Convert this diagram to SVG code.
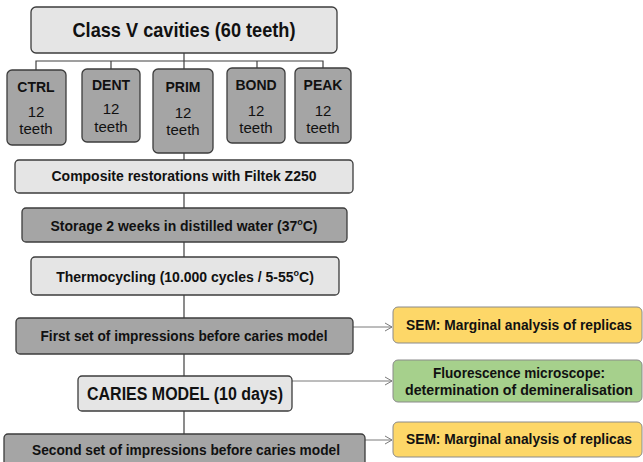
<svg xmlns="http://www.w3.org/2000/svg" width="643" height="462" viewBox="0 0 643 462">
<defs>
<style>
.lt{fill:#e5e5e5;stroke:#3c3c3c;stroke-width:1.3}
.dk{fill:#a5a5a5;stroke:#3c3c3c;stroke-width:1.3}
.ye{fill:#fdd768;stroke:#8a8a8a;stroke-width:1}
.gr{fill:#a6d08c;stroke:#8a8a8a;stroke-width:1}
text{font-family:"Liberation Sans",Arial,sans-serif;fill:#111;text-anchor:middle;dominant-baseline:central}
.b{font-weight:bold}
.sup{font-size:9px;baseline-shift:4px}
.line{stroke:#404040;stroke-width:1.2;fill:none}
.arr{stroke:#7a7a7a;stroke-width:1;fill:none}
</style>
<marker id="ah" markerWidth="10" markerHeight="10" refX="8" refY="5" orient="auto" markerUnits="userSpaceOnUse">
<path d="M1,1 L8,5 L1,9" fill="none" stroke="#7a7a7a" stroke-width="1"/>
</marker>
</defs>
<g id="connectors">
<path class="line" d="M184,53 V61 M36,70 V61 H323 V68 M111,61 V69 M184,61 V69 M257,61 V68"/>
<path class="line" d="M184,153 V160 M184,193 V208 M184,242 V257 M184,295 V318 M184,354 V376 M184,411 V434"/>
<line class="arr" x1="353" y1="327" x2="392" y2="327" marker-end="url(#ah)"/>
<line class="arr" x1="292" y1="381" x2="392" y2="381" marker-end="url(#ah)"/>
<line class="arr" x1="365" y1="440" x2="392" y2="440" marker-end="url(#ah)"/>
</g>
<g id="n-title"><rect class="lt" x="31" y="7" width="306" height="46" rx="5"/><text class="b" x="184" y="29" font-size="21" textLength="223" lengthAdjust="spacingAndGlyphs">Class V cavities (60 teeth)</text></g>
<g id="n-ctrl"><rect class="dk" x="7" y="70" width="59" height="75" rx="5"/><text class="b" x="36" y="87" font-size="14">CTRL</text><text x="36" y="111" font-size="15">12</text><text x="36" y="128" font-size="15">teeth</text></g>
<g id="n-dent"><rect class="dk" x="82" y="69" width="58" height="73" rx="5"/><text class="b" x="111" y="85" font-size="14">DENT</text><text x="111" y="108" font-size="15">12</text><text x="111" y="126" font-size="15">teeth</text></g>
<g id="n-prim"><rect class="dk" x="153" y="69" width="60" height="84" rx="5"/><text class="b" x="183" y="87" font-size="14">PRIM</text><text x="183" y="112" font-size="15">12</text><text x="183" y="129" font-size="15">teeth</text></g>
<g id="n-bond"><rect class="dk" x="227" y="68" width="58" height="75" rx="5"/><text class="b" x="256" y="85" font-size="14">BOND</text><text x="256" y="110" font-size="15">12</text><text x="256" y="127" font-size="15">teeth</text></g>
<g id="n-peak"><rect class="dk" x="295" y="68" width="56" height="75" rx="5"/><text class="b" x="323" y="85" font-size="14">PEAK</text><text x="323" y="110" font-size="15">12</text><text x="323" y="127" font-size="15">teeth</text></g>
<g id="n-composite"><rect class="lt" x="15" y="160" width="338" height="33" rx="4"/><text class="b" x="184" y="176" font-size="14" textLength="265" lengthAdjust="spacingAndGlyphs">Composite restorations with Filtek Z250</text></g>
<g id="n-storage"><rect class="dk" x="22" y="208" width="325" height="34" rx="4"/><text class="b" x="184" y="226" font-size="14" textLength="267" lengthAdjust="spacingAndGlyphs">Storage 2 weeks in distilled water (37<tspan class="sup">o</tspan>C)</text></g>
<g id="n-thermo"><rect class="lt" x="31" y="257" width="308" height="38" rx="4"/><text class="b" x="185" y="277" font-size="14">Thermocycling (10.000 cycles / 5-55<tspan class="sup">o</tspan>C)</text></g>
<g id="n-first"><rect class="dk" x="16" y="318" width="337" height="36" rx="4"/><text class="b" x="184" y="336" font-size="14" textLength="287" lengthAdjust="spacingAndGlyphs">First set of impressions before caries model</text></g>
<g id="n-caries"><rect class="lt" x="78" y="376" width="214" height="35" rx="4"/><text class="b" x="185" y="394" font-size="18" textLength="196" lengthAdjust="spacingAndGlyphs">CARIES MODEL (10 days)</text></g>
<g id="n-second"><rect class="dk" x="4" y="434" width="361" height="40" rx="4"/><text class="b" x="186" y="450" font-size="14" textLength="308" lengthAdjust="spacingAndGlyphs">Second set of impressions before caries model</text></g>
<g id="n-sem1"><rect class="ye" x="393" y="307" width="249" height="36" rx="5"/><text class="b" x="519" y="325" font-size="14" textLength="226" lengthAdjust="spacingAndGlyphs">SEM: Marginal analysis of replicas</text></g>
<g id="n-fluo"><rect class="gr" x="393" y="360" width="249" height="42" rx="5"/><text class="b" x="519" y="373" font-size="14" textLength="172" lengthAdjust="spacingAndGlyphs">Fluorescence microscope:</text><text class="b" x="519" y="390" font-size="14" textLength="228" lengthAdjust="spacingAndGlyphs">determination of demineralisation</text></g>
<g id="n-sem2"><rect class="ye" x="393" y="422" width="249" height="35" rx="5"/><text class="b" x="519" y="439" font-size="14" textLength="226" lengthAdjust="spacingAndGlyphs">SEM: Marginal analysis of replicas</text></g>
</svg>
